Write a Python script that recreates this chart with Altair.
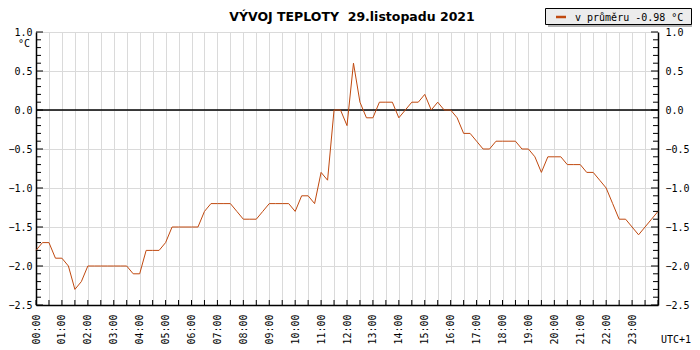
import altair as alt
import pandas as pd

# ---- data (15-minute readings, 00:00 .. 24:00) ----
temps = [
    -1.8, -1.7, -1.7, -1.9, -1.9, -2.0, -2.3, -2.2,   # 00:00-01:45
    -2.0, -2.0, -2.0, -2.0, -2.0, -2.0, -2.0, -2.1,   # 02:00-03:45
    -2.1, -1.8, -1.8, -1.8, -1.7, -1.5, -1.5, -1.5,   # 04:00-05:45
    -1.5, -1.5, -1.3, -1.2, -1.2, -1.2, -1.2, -1.3,   # 06:00-07:45
    -1.4, -1.4, -1.4, -1.3, -1.2, -1.2, -1.2, -1.2,   # 08:00-09:45
    -1.3, -1.1, -1.1, -1.2, -0.8, -0.9, 0.0, 0.0,     # 10:00-11:45
    -0.2, 0.6, 0.1, -0.1, -0.1, 0.1, 0.1, 0.1,        # 12:00-13:45
    -0.1, 0.0, 0.1, 0.1, 0.2, 0.0, 0.1, 0.0,          # 14:00-15:45
    0.0, -0.1, -0.3, -0.3, -0.4, -0.5, -0.5, -0.4,    # 16:00-17:45
    -0.4, -0.4, -0.4, -0.5, -0.5, -0.6, -0.8, -0.6,   # 18:00-19:45
    -0.6, -0.6, -0.7, -0.7, -0.7, -0.8, -0.8, -0.9,   # 20:00-21:45
    -1.0, -1.2, -1.4, -1.4, -1.5, -1.6, -1.5, -1.4,   # 22:00-23:45
    -1.3,                                             # 24:00
]
step_hours = 0.25
times = [i * step_hours for i in range(len(temps))]

title_text = "VÝVOJ TEPLOTY \u00a029.listopadu 2021"
legend_text = "v průměru -0.98 °C"
unit_text = "°C"
tz_text = "UTC+1"

x_ticks = [i * 0.5 for i in range(49)]
y_major = [-2.5, -2.0, -1.5, -1.0, -0.5, 0.0, 0.5, 1.0]
y_minor = [round(-2.5 + 0.1 * i, 1) for i in range(36)]
ref_line = [0.0]

# ---- layout ----
W, H = 622, 273
MONO = "DejaVu Sans Mono"
LINE_COLOR = "#c0490f"
GRID_COLOR = "#dadada"

df = pd.DataFrame({"t": times, "temp": temps})
xt = pd.DataFrame({"t": x_ticks})
ymin = pd.DataFrame({"v": [v for v in y_minor if round(v * 10) % 5 != 0]})
ymaj = pd.DataFrame({"v": y_major})
zdf = pd.DataFrame({"v": ref_line})
one = pd.DataFrame({"k": [0]})

xscale = alt.Scale(domain=[0, 24], nice=False, zero=False)
yscale = alt.Scale(domain=[-2.5, 1.0], nice=False, zero=False)

label_expr = ("datum.value % 1 == 0 && datum.value < 24 ? "
              "(datum.value < 10 ? '0' : '') + datum.value + ':00' : ''")

x_axis = alt.Axis(values=x_ticks, labelExpr=label_expr, labelAngle=270,
                  labelFont=MONO, labelFontSize=10, labelColor="black",
                  labelPadding=9, ticks=False, domainColor="black",
                  domainWidth=1.5, grid=True, gridColor=GRID_COLOR,
                  gridWidth=1, title=None, labelOverlap=False,
                  labelFlush=False, labelBound=False)

y_left = alt.Axis(values=y_major, format=".1f", labelFont=MONO,
                  labelFontSize=10, labelColor="black", labelPadding=4,
                  ticks=False, domainColor="black", domainWidth=1.5,
                  grid=True, gridColor=GRID_COLOR, gridWidth=1, title=None,
                  labelOverlap=False, labelFlush=False)

y_right = alt.Axis(orient="right", values=y_major, format=".1f",
                   labelFont=MONO, labelFontSize=10, labelColor="black",
                   labelPadding=7, ticks=False, domainColor="black",
                   domainWidth=1.5, grid=False, title=None,
                   labelOverlap=False, labelFlush=False)

line = alt.Chart(df).mark_line(color=LINE_COLOR, strokeWidth=1).encode(
    x=alt.X("t:Q", scale=xscale, axis=x_axis),
    y=alt.Y("temp:Q", scale=yscale, axis=y_left),
)

zero = alt.Chart(zdf).mark_rule(color="black", strokeWidth=1.5).encode(
    y=alt.Y("v:Q", scale=yscale, axis=None),
)

# inward ticks
bottom_ticks = alt.Chart(xt).mark_rule(color="black", strokeWidth=1).encode(
    x=alt.X("t:Q", scale=xscale, axis=None),
    y=alt.value(H), y2=alt.value(H - 5),
)
left_minor = alt.Chart(ymin).mark_rule(color="black", strokeWidth=1).encode(
    y=alt.Y("v:Q", scale=yscale, axis=None),
    x=alt.value(0), x2=alt.value(5),
)
left_major = alt.Chart(ymaj).mark_rule(color="black", strokeWidth=1).encode(
    y=alt.Y("v:Q", scale=yscale, axis=None),
    x=alt.value(0), x2=alt.value(7),
)
right_minor = alt.Chart(ymin).mark_rule(color="black", strokeWidth=1).encode(
    y=alt.Y("v:Q", scale=yscale, axis=None),
    x=alt.value(W - 5), x2=alt.value(W),
)
right_major = alt.Chart(ymaj).mark_rule(color="black", strokeWidth=1).encode(
    y=alt.Y("v:Q", scale=yscale, axis=y_right),
    x=alt.value(W - 7), x2=alt.value(W),
)

title = alt.Chart(one).mark_text(font="DejaVu Sans", fontSize=12.5,
                                 fontWeight="bold", color="black",
                                 align="center", baseline="alphabetic").encode(
    x=alt.value(316), y=alt.value(-11.5), text=alt.value(title_text))

unit = alt.Chart(one).mark_text(font=MONO, fontSize=10, color="black",
                                align="right", baseline="alphabetic").encode(
    x=alt.value(-6), y=alt.value(15), text=alt.value(unit_text))

tz = alt.Chart(one).mark_text(font=MONO, fontSize=10, color="black",
                              align="right", baseline="alphabetic").encode(
    x=alt.value(655), y=alt.value(311), text=alt.value(tz_text))

shadow = alt.Chart(one).mark_rect(fill="#b4b4b4").encode(
    x=alt.value(512), x2=alt.value(661), y=alt.value(-21), y2=alt.value(-5))
box = alt.Chart(one).mark_rect(fill="#ececec", stroke="black",
                               strokeWidth=1).encode(
    x=alt.value(509.5), x2=alt.value(655.5), y=alt.value(-23.5),
    y2=alt.value(-7.5))
swatch = alt.Chart(one).mark_rule(color=LINE_COLOR, strokeWidth=2.5).encode(
    x=alt.value(520), x2=alt.value(530), y=alt.value(-15))
leg_text = alt.Chart(one).mark_text(font=MONO, fontSize=10, color="black",
                                    align="left", baseline="alphabetic").encode(
    x=alt.value(539), y=alt.value(-11.5), text=alt.value(legend_text))

chart = alt.layer(
    zero, line, bottom_ticks, left_minor, left_major, right_minor,
    right_major, title, unit, tz, shadow, box, swatch, leg_text,
).resolve_scale(y="shared", x="shared").resolve_axis(
    y="independent", x="independent"
).properties(
    width=W, height=H,
    autosize=alt.AutoSizeParams(type="none"),
    padding={"left": 28, "top": 24, "right": 34, "bottom": 42},
    background="white",
).configure_view(stroke=None)

chart.save("out.html", embed_options={"renderer": "svg", "actions": False})
